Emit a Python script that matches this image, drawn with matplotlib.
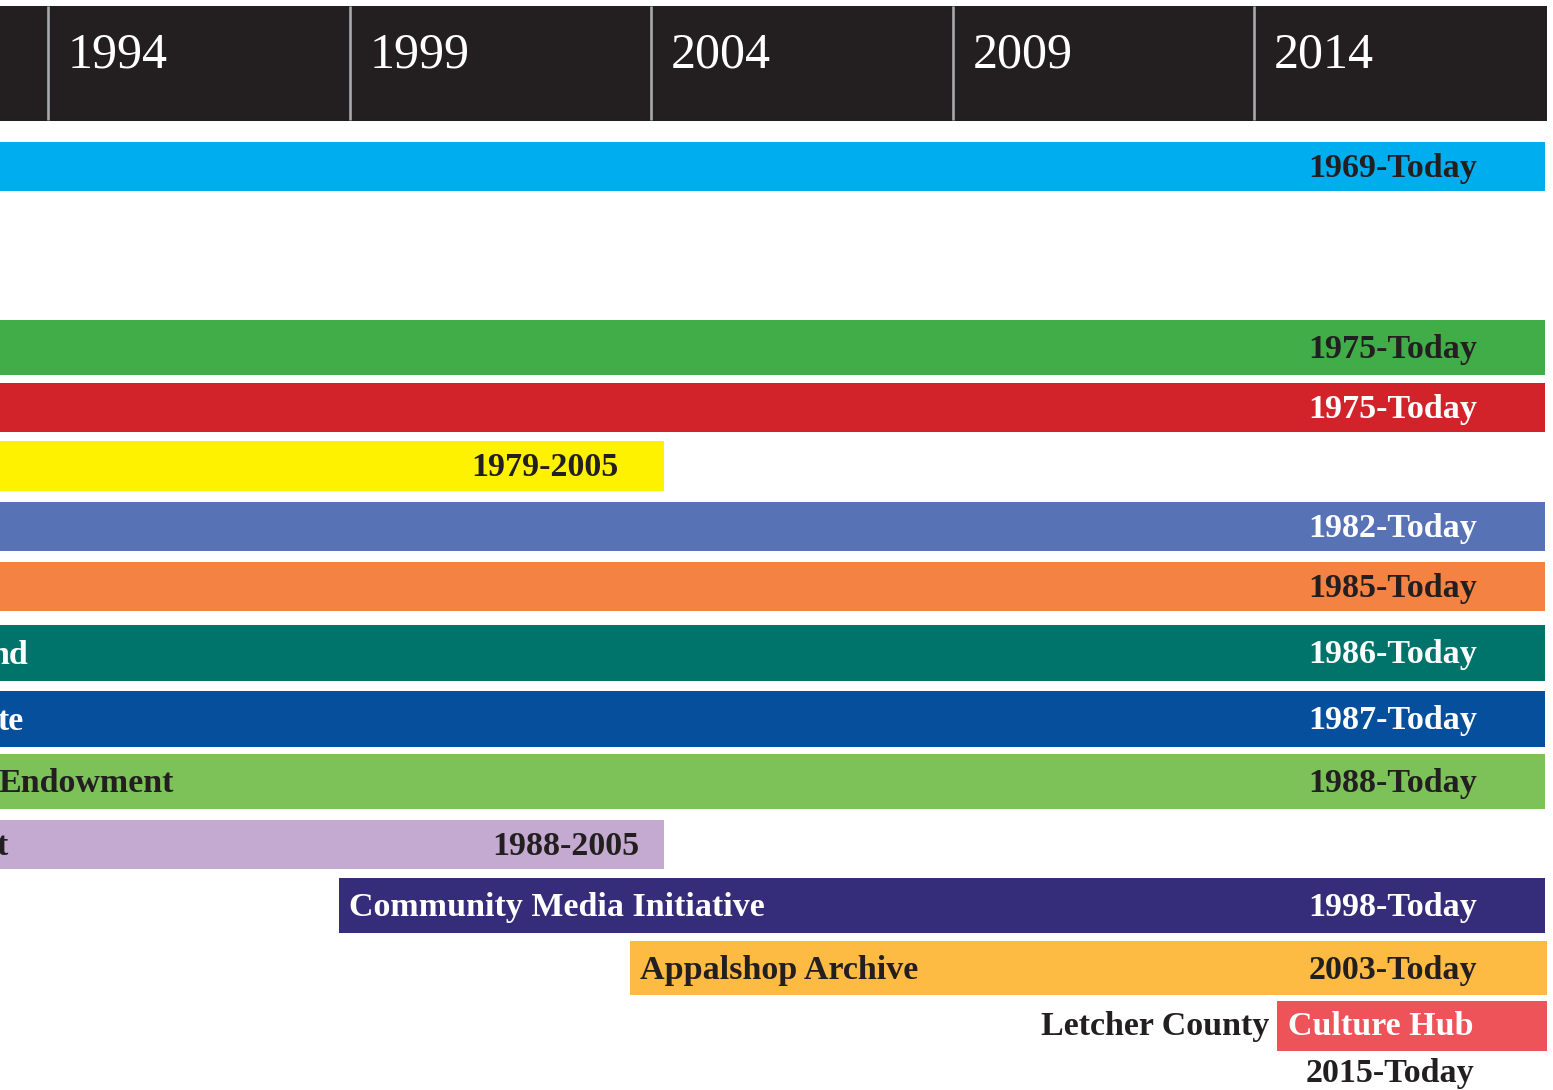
import matplotlib
matplotlib.use('Agg')
import matplotlib.pyplot as plt
from matplotlib.patches import Rectangle

plt.rcParams['font.family'] = ['Liberation Serif', 'DejaVu Serif']

#Header years
years = [1994, 1999, 2004, 2009, 2014]

#Program bars (start / end positions, in years)
names = ['', '', '', '', '', '', 'nd', 'te', 'Endowment', 't',
         'Community Media Initiative', 'Appalshop Archive']
spans = ['1969-Today', '1975-Today', '1975-Today', '1979-2005', '1982-Today',
         '1985-Today', '1986-Today', '1987-Today', '1988-Today', '1988-2005',
         '1998-Today', '2003-Today']
starts = [1969, 1975, 1975, 1979, 1982, 1985, 1986, 1987, 1988, 1988,
          1998.82, 2003.65]
ends = [2018.83, 2018.83, 2018.83, 2004.22, 2018.83, 2018.83, 2018.83,
        2018.83, 2018.83, 2004.22, 2018.83, 2018.86]

#Last entry drawn on its own
hub_prefix = 'Letcher County'
hub_name = 'Culture Hub'
hub_span = '2015-Today'
hub_start = 2014.38
hub_end = 2018.86

#Styles
dark = '#231F20'
colors = ['#00AEEF', '#41AD49', '#D2232A', '#FFF200', '#5872B6', '#F48243',
          '#00746B', '#064F9C', '#7DC159', '#C4A9D0', '#352C7A', '#FDBB43']
text_colors = [dark, dark, 'white', dark, 'white', dark,
               'white', 'white', dark, dark, 'white', dark]
hub_color = '#EF535A'

#Row layout in pixel units (top, bottom)
tops = [142, 320, 383, 441, 502, 562, 625, 691, 754, 820, 878, 941]
bottoms = [191, 375, 432, 491, 551, 611, 681, 747, 809, 869, 933, 995]
span_x = [2016.3] * 12
span_x[3] = 2002.24
span_x[9] = 2002.59
# left start of the names that are cut by the left edge
cut_name_start = {6: 1993.03, 7: 1993.16, 8: 1993.18, 9: 1993.15}

x0, x1 = 1993.2, 2018.96

fig = plt.figure(figsize=(15.53, 10.9), dpi=100)
ax = fig.add_axes([0, 0, 1, 1])
ax.set_xlim(x0, x1)
ax.set_ylim(1090, 0)
ax.axis('off')

#Header band
ax.add_patch(Rectangle((x0, 6), 2018.86 - x0, 115, color=dark, lw=0))
for yr in years:
    ax.plot([yr, yr], [6, 120], color='#A7A9AC', lw=1.9, solid_capstyle='butt')
    ax.text(yr + 0.33, 67, str(yr), color='white', fontsize=36,
            va='baseline', ha='left')

#Bars
for i in range(len(spans)):
    h = bottoms[i] - tops[i]
    mid = tops[i] + h / 2
    ax.barh(mid, ends[i] - starts[i], left=starts[i], height=h,
            color=colors[i], lw=0)
    ax.text(span_x[i], mid + 10.5, spans[i], color=text_colors[i],
            fontsize=24.5, fontweight='bold', ha='center', va='baseline')
    if names[i]:
        nx = cut_name_start.get(i, starts[i] + 0.17)
        ax.text(nx, mid + 10.5, names[i], color=text_colors[i],
                fontsize=24.5, fontweight='bold', ha='left', va='baseline')

#Culture hub
ax.barh(1026, hub_end - hub_start, left=hub_start, height=50,
        color=hub_color, lw=0)
ax.text(hub_start + 0.18, 1035, hub_name, color='white', fontsize=24.5,
        fontweight='bold', ha='left', va='baseline')
ax.text(hub_start - 0.13, 1035, hub_prefix, color=dark, fontsize=24.5,
        fontweight='bold', ha='right', va='baseline')
ax.text(2016.25, 1082, hub_span, color=dark, fontsize=24.5,
        fontweight='bold', ha='center', va='baseline')

fig.savefig('out.png', dpi=100)
